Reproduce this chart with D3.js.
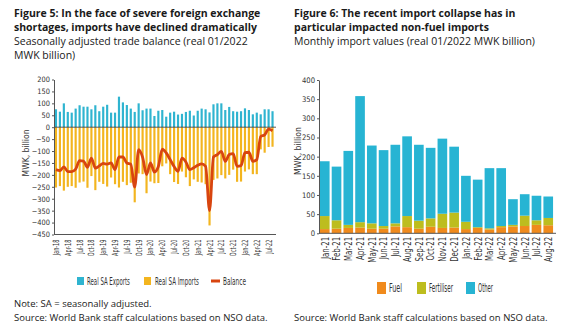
<!DOCTYPE html>
<html>
<head>
<meta charset="utf-8">
<script src="https://cdn.jsdelivr.net/npm/d3@7.9.0/dist/d3.min.js"></script>
<style>
  body { margin: 0; background: #fff; }
  svg { display: block; font-family: "Open Sans", sans-serif; }
  .axis text { font-family: "Liberation Sans Narrow", "DejaVu Sans Condensed", sans-serif; fill: #333; }
  .axis path, .axis line { stroke: #555; }
  .narrow { font-family: "Liberation Sans Narrow", "DejaVu Sans Condensed", sans-serif; fill: #333; }
</style>
</head>
<body>
<svg id="chart" width="578" height="329"></svg>
<script>
// ---- Figure 5 data: Jan-18 .. Aug-22, real SA, MWK billion
const exports5 = [75, 65, 100, 64, 61, 78, 92, 86, 86, 75, 92, 67, 86, 94, 61, 61, 128, 104, 93, 78,
  64, 100, 71, 78, 78, 47, 69, 72, 44, 61, 65, 53, 56, 64, 69, 49, 69, 78, 75, 62,
  96, 100, 100, 72, 85, 67, 65, 67, 79, 72, 54, 61, 54, 75, 75, 67];
const imports5 = [-253, -247, -266, -250, -247, -254, -232, -228, -254, -205, -264, -229, -238, -249, -211, -239, -253, -229, -243, -233,
  -315, -194, -197, -277, -228, -235, -234, -164, -152, -197, -230, -238, -186, -210, -247, -219, -229, -232, -239, -412,
  -221, -215, -201, -215, -200, -178, -229, -228, -186, -177, -197, -197, -93, -107, -83, -82];
const balance5 = [-178, -182, -166, -186, -186, -176, -140, -142, -168, -130, -172, -162, -152, -155, -150, -178, -125, -125, -150, -155,
  -251, -94, -126, -199, -150, -188, -165, -92, -108, -136, -165, -185, -130, -146, -178, -170, -160, -154, -164, -350,
  -125, -115, -101, -143, -115, -111, -164, -161, -107, -105, -143, -136, -39, -32, -8, -15];
const ticks5 = ["Jan-18", "Apr-18", "Jul-18", "Oct-18", "Jan-19", "Apr-19", "Jul-19", "Oct-19", "Jan-20", "Apr-20",
  "Jul-20", "Oct-20", "Jan-21", "Apr-21", "Jul-21", "Oct-21", "Jan-22", "Apr-22", "Jul-22"];

// ---- Figure 6 data: Jan-21 .. Aug-22, MWK billion
const months6 = ["Jan-21", "Feb-21", "Mar-21", "Apr-21", "May-21", "Jun-21", "Jul-21", "Aug-21", "Sep-21", "Oct-21",
  "Nov-21", "Dec-21", "Jan-22", "Feb-22", "Mar-22", "Apr-22", "May-22", "Jun-22", "Jul-22", "Aug-22"];
const fuel6 = [11, 12, 14, 15, 12, 12, 18, 16, 12, 17, 14, 15, 11, 14, 10, 16, 18, 19, 22, 21];
const fert6 = [34, 22, 8, 14, 14, 7, 8, 29, 21, 22, 37, 39, 19, 2, 3, 3, 4, 27, 12, 19];
const other6 = [143, 140, 193, 329, 203, 198, 205, 208, 198, 184, 196, 172, 120, 124, 157, 151, 67, 56, 64, 56];

const fmt = d3.timeFormat("%b-%y");
const months5 = d3.timeMonth.range(new Date(2018, 0, 1), new Date(2022, 8, 1)).map(fmt);

const colExp = "#2fb4d0", colImp = "#f3b51f", colBal = "#d8450f";
const colFuel = "#f08a1c", colFert = "#bdbd1e", colOther = "#27b4d3";

const svg = d3.select("#chart");

function addText(x, y, str, opts = {}) {
  return svg.append("text").attr("x", x).attr("y", y).text(str)
    .attr("font-size", opts.size || 10.5)
    .attr("font-weight", opts.weight || 400)
    .attr("fill", opts.fill || "#1a1a1a");
}
// condensed label, squeezed horizontally to the width it has in the picture
function narrowText(x, y, str, size, len, rotate = false) {
  const t = svg.append("text").attr("class", "narrow").attr("dy", "0.35em")
    .attr("font-size", size).text(str);
  if (rotate) t.attr("text-anchor", "middle");
  const s = len / t.node().getComputedTextLength();
  t.attr("transform", `translate(${x},${y})${rotate ? " rotate(-90)" : ""} scale(${s},1)`);
  return t;
}

// titles
addText(14, 17, "Figure 5: In the face of severe foreign exchange", { weight: 700 });
addText(14, 31, "shortages, imports have declined dramatically", { weight: 700 });
addText(14, 45, "Seasonally adjusted trade balance (real 01/2022");
addText(14, 59, "MWK billion)");
addText(294, 17, "Figure 6: The recent import collapse has in", { weight: 700 });
addText(294, 31, "particular impacted non-fuel imports", { weight: 700 });
addText(294, 45, "Monthly import values (real 01/2022 MWK billion)");

addText(14, 307, "Note: SA = seasonally adjusted.", { size: 9.5 });
addText(14, 321, "Source: World Bank staff calculations based on NSO data.", { size: 9.5 });
addText(294, 321, "Source: World Bank staff calculations based on NSO data.", { size: 9.5 });

// ================= Figure 5 =================
const x5 = d3.scaleBand().domain(months5).range([54, 274.5]).paddingInner(0.45).paddingOuter(0.225);
const y5 = d3.scaleLinear().domain([-450, 200]).range([234.5, 79.5]);
const bw5 = x5.bandwidth();

const g5 = svg.append("g");
g5.selectAll("rect.exp").data(exports5).join("rect")
  .attr("x", (d, i) => x5(months5[i])).attr("width", bw5)
  .attr("y", d => y5(d)).attr("height", d => y5(0) - y5(d))
  .attr("fill", colExp);
g5.selectAll("rect.imp").data(imports5).join("rect")
  .attr("x", (d, i) => x5(months5[i])).attr("width", bw5)
  .attr("y", y5(0)).attr("height", d => y5(d) - y5(0))
  .attr("fill", colImp);

g5.append("line").attr("x1", 54).attr("x2", 276).attr("y1", y5(0)).attr("y2", y5(0))
  .attr("stroke", "#333").attr("stroke-width", 0.8);

const balLine = d3.line()
  .x((d, i) => x5(months5[i]) + bw5 / 2)
  .y(d => y5(d))
  .curve(d3.curveMonotoneX);
g5.append("path").datum(balance5).attr("d", balLine)
  .attr("fill", "none").attr("stroke", colBal).attr("stroke-width", 2.8).attr("stroke-linejoin", "round");

const ay5 = g5.append("g").attr("class", "axis").attr("transform", "translate(54,0)")
  .call(d3.axisLeft(y5).tickValues(d3.range(-450, 201, 50)).tickSize(2).tickPadding(2).tickSizeOuter(0));
ay5.selectAll("text").attr("font-size", 7.4);

const ax5 = g5.append("g").attr("class", "axis").attr("transform", `translate(0,${y5(-450)})`)
  .call(d3.axisBottom(x5).tickValues(ticks5).tickSize(0).tickSizeOuter(0));
ax5.select(".domain").attr("d", "M54,0H276");
ax5.selectAll("text").attr("font-size", 8.6)
  .attr("transform", "rotate(-90) scale(0.64,1)").attr("text-anchor", "end")
  .attr("x", -8).attr("y", 0).attr("dy", "0.35em");

narrowText(26, 153, "MWK, billion", 9.5, 47, true);

// legend 5
svg.append("rect").attr("x", 77).attr("y", 277).attr("width", 7).attr("height", 8).attr("fill", colExp);
svg.append("rect").attr("x", 144).attr("y", 277).attr("width", 7).attr("height", 8).attr("fill", colImp);
svg.append("line").attr("x1", 211).attr("x2", 220).attr("y1", 281).attr("y2", 281)
  .attr("stroke", colBal).attr("stroke-width", 3);
narrowText(87, 281, "Real SA Exports", 10, 43);
narrowText(155, 281, "Real SA Imports", 10, 44);
narrowText(223, 281, "Balance", 10, 23);

// ================= Figure 6 =================
const x6 = d3.scaleBand().domain(months6).range([319, 554]).paddingInner(0.18).paddingOuter(0.08);
const y6 = d3.scaleLinear().domain([0, 400]).range([233.3, 80]);

const rows6 = months6.map((m, i) => ({ month: m, Fuel: fuel6[i], Fertiliser: fert6[i], Other: other6[i] }));
const stack6 = d3.stack().keys(["Fuel", "Fertiliser", "Other"])(rows6);
const cols6 = { Fuel: colFuel, Fertiliser: colFert, Other: colOther };

const g6 = svg.append("g");
g6.selectAll("g.layer").data(stack6).join("g")
  .attr("fill", d => cols6[d.key])
  .selectAll("rect").data(d => d).join("rect")
  .attr("x", d => x6(d.data.month)).attr("width", x6.bandwidth())
  .attr("y", d => y6(d[1])).attr("height", d => y6(d[0]) - y6(d[1]));

const ay6 = g6.append("g").attr("class", "axis").attr("transform", "translate(319,0)")
  .call(d3.axisLeft(y6).tickValues(d3.range(0, 401, 50)).tickSize(2).tickPadding(2).tickSizeOuter(0));
ay6.selectAll("text").attr("font-size", 7.6);

const ax6 = g6.append("g").attr("class", "axis").attr("transform", `translate(0,${y6(0)})`)
  .call(d3.axisBottom(x6).tickSize(0).tickSizeOuter(0));
ax6.select(".domain").attr("d", "M319,0H556");
ax6.selectAll("text").attr("font-size", 11)
  .attr("transform", "rotate(-90) scale(0.71,1)").attr("text-anchor", "end")
  .attr("x", -5).attr("y", 0).attr("dy", "0.35em");

narrowText(298, 151, "MWK, billion", 9.5, 48, true);

// legend 6
[["Fuel", colFuel, 377, 13], ["Fertiliser", colFert, 417, 24], ["Other", colOther, 466, 15]].forEach(([t, c, x, len]) => {
  svg.append("rect").attr("x", x).attr("y", 282).attr("width", 9).attr("height", 12).attr("fill", c);
  narrowText(x + 12, 288, t, 12, len);
});
</script>
</body>
</html>
